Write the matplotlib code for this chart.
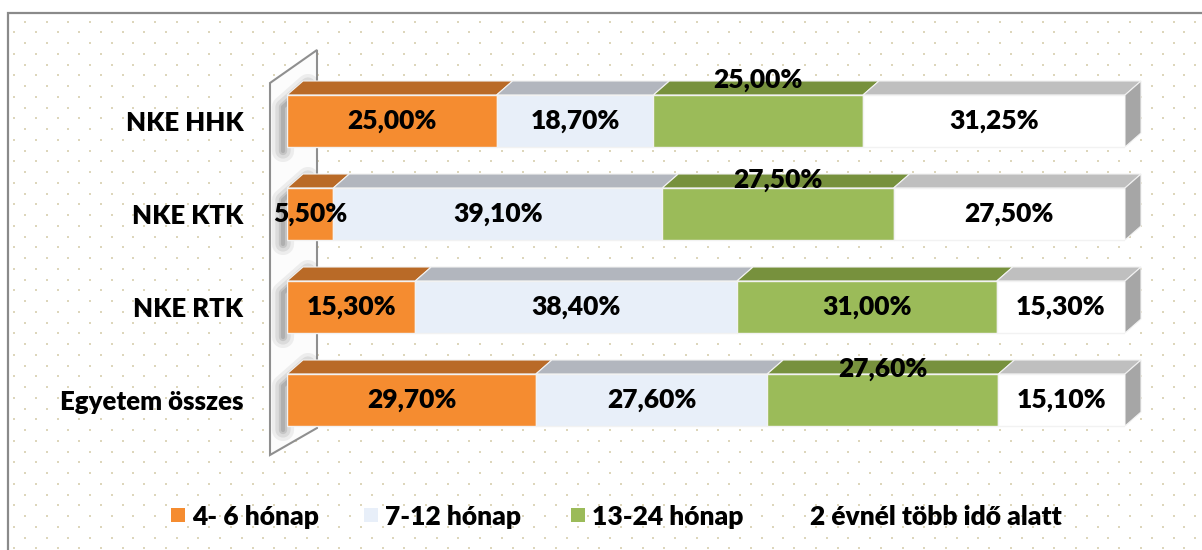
import matplotlib
matplotlib.use("Agg")
import matplotlib.pyplot as plt
from matplotlib.patches import Polygon, Rectangle
import numpy as np

# ---- data ----
categories = ["NKE HHK", "NKE KTK", "NKE RTK", "Egyetem összes"]
series = ["4- 6 hónap", "7-12 hónap", "13-24 hónap", "2 évnél több idő alatt"]
s_4_6 = [25.00, 5.50, 15.30, 29.70]
s_7_12 = [18.70, 39.10, 38.40, 27.60]
s_13_24 = [25.00, 27.50, 31.00, 27.60]
s_2ev = [31.25, 27.50, 15.30, 15.10]

# ---- style ----
front = ["#f58c30", "#e8eff9", "#9bbb59", "#ffffff"]
top = ["#b96a27", "#b2b6be", "#77913d", "#bfbfbf"]
side_col = "#a6a6a6"
FONT = ["Lato", "DejaVu Sans"]
WEIGHT = "heavy"
plt.rcParams["font.family"] = FONT

W, H = 1202, 550
fig = plt.figure(figsize=(W / 100, H / 100), dpi=100)

# background layer in pixel coordinates
bg = fig.add_axes([0, 0, 1, 1], zorder=0)
bg.set_xlim(0, W)
bg.set_ylim(H, 0)
bg.axis("off")
xs, ys = [], []
row = 0
yy = 21.7
while yy < H:
    xx = 25.0 if row % 2 == 0 else 14.2
    while xx < W:
        xs.append(xx)
        ys.append(yy)
        xx += 21.67
    yy += 10.75
    row += 1
bg.scatter(xs, ys, s=3.5, marker="s", color="#ddd6bb", linewidths=0, zorder=0)
bg.plot([8, 8, W], [H, 13, 13], color="#8a8a8a", lw=1.6, zorder=1, solid_joinstyle="miter")

# ---- main axes (data) ----
n = len(categories)
ypos = np.arange(n)[::-1]
ax_left, ax_right = 287, 1125
ax_top, ax_bot = 74.5, 446.5
ax = fig.add_axes([ax_left / W, (H - ax_bot) / H, (ax_right - ax_left) / W, (ax_bot - ax_top) / H], zorder=2)
ax.patch.set_alpha(0)
ax.set_xlim(0, 100)
ax.set_ylim(-0.5, n - 0.5)
for s in ax.spines.values():
    s.set_visible(False)
ax.set_xticks([])
ax.set_yticks(ypos)
ax.set_yticklabels(categories, fontsize=18.5, fontweight=WEIGHT)
ax.tick_params(axis="y", length=0, pad=31.5)

# wall (behind bars), with soft shadows of the bars
wall = Polygon([(270, 83), (317, 50), (317, 428), (270, 455)], closed=True,
               facecolor="#fcfcfc", edgecolor="#8f8f8f", lw=1.5, zorder=1)
bg.add_patch(wall)
bar_px = 52
pitch = (ax_bot - ax_top) / n
for j in range(n):
    yc = ax_top + pitch * (j + 0.5)
    t, b = yc - bar_px / 2, yc + bar_px / 2
    for lw, al in [(16, 0.10), (11, 0.14), (6, 0.20), (3, 0.25)]:
        bg.plot([283, 283, 308], [b + 4, t + 12, t - 10], color="#6e6e6e", lw=lw, alpha=al,
                solid_capstyle="round", solid_joinstyle="round", zorder=1.2)

data = np.array([s_4_6, s_7_12, s_13_24, s_2ev])
norm = data / data.sum(axis=0) * 100

bh = bar_px / pitch
dx = 16 * 100 / (ax_right - ax_left)
dy = 14 / pitch

label_dy = {(0, 2): 0.44, (1, 2): 0.37, (3, 2): 0.33}

cum = np.zeros(n)
for i in range(len(series)):
    ax.barh(ypos, norm[i], left=cum, height=bh, color=front[i],
            edgecolor="#f2f2f2", lw=1.0, zorder=3)
    for j in range(n):
        l, w, yc = cum[j], norm[i][j], ypos[j]
        yt = yc + bh / 2
        ax.add_patch(Polygon([(l, yt), (l + w, yt), (l + w + dx, yt + dy), (l + dx, yt + dy)],
                             closed=True, facecolor=top[i], edgecolor="#f2f2f2", lw=0.8,
                             zorder=2.5, clip_on=False))
        lab = f"{data[i][j]:.2f}%".replace(".", ",")
        ax.text(l + w / 2, yc + label_dy.get((j, i), 0), lab, ha="center", va="center",
                fontsize=19, fontweight=WEIGHT, color="black", zorder=5, clip_on=False)
    cum += norm[i]

for j in range(n):
    yc = ypos[j]
    ax.add_patch(Polygon([(100, yc - bh / 2), (100, yc + bh / 2), (100 + dx, yc + bh / 2 + dy),
                          (100 + dx, yc - bh / 2 + dy)], closed=True, facecolor=side_col,
                         edgecolor="#f2f2f2", lw=0.8, zorder=2.5, clip_on=False))

# ---- legend (placed like the reference) ----
leg_y = 515
leg_marker_x = [171, 364, 571, 789]
for i, name in enumerate(series):
    bg.add_patch(Rectangle((leg_marker_x[i], leg_y - 7), 14, 14, facecolor=front[i],
                           edgecolor="none", zorder=2))
    bg.text(leg_marker_x[i] + 21, leg_y, name, ha="left", va="center_baseline",
            fontsize=19, fontweight=WEIGHT, color="black", zorder=3)

fig.savefig("out.png", dpi=100)
